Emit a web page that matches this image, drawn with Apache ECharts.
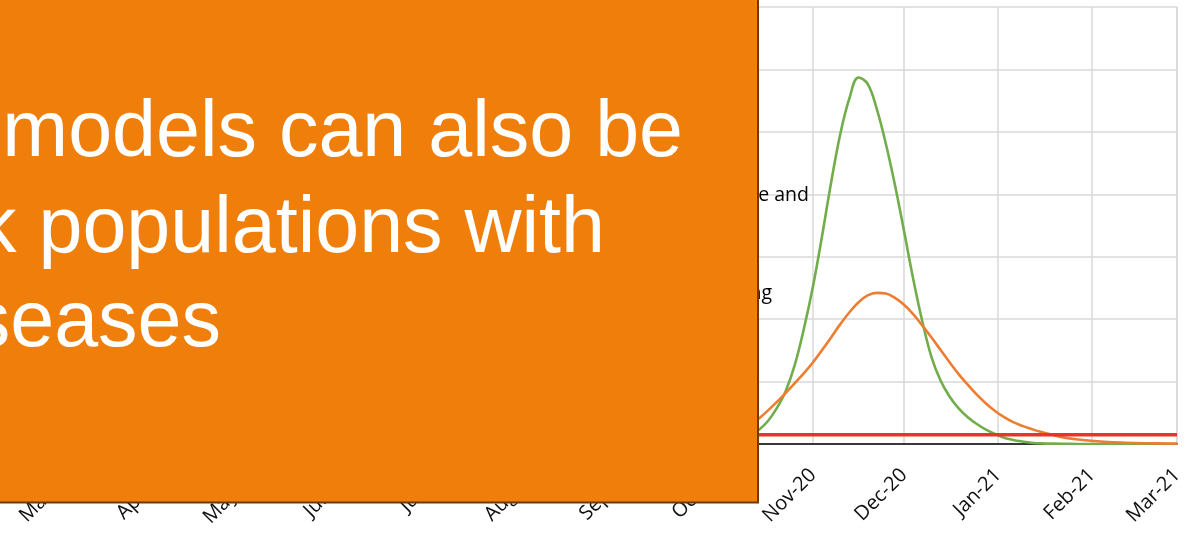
<!DOCTYPE html>
<html>
<head>
<meta charset="utf-8">
<style>
  html, body { margin: 0; padding: 0; background: #ffffff; }
  #chart { width: 1191px; height: 533px; }
</style>
<script src="https://cdn.jsdelivr.net/npm/echarts@6/dist/echarts.min.js"></script>
</head>
<body>
<div id="chart"></div>
<script>
// Modelled daily demand, autumn wave 2020/21
const dates = [
  '2020-10-14', '2020-10-17', '2020-10-20', '2020-10-23', '2020-10-26', '2020-10-29',
  '2020-11-01', '2020-11-04', '2020-11-07', '2020-11-10', '2020-11-13', '2020-11-16',
  '2020-11-19', '2020-11-22', '2020-11-25', '2020-11-28', '2020-12-01', '2020-12-04',
  '2020-12-07', '2020-12-10', '2020-12-13', '2020-12-16', '2020-12-19', '2020-12-22',
  '2020-12-25', '2020-12-28', '2020-12-31', '2021-01-03', '2021-01-06', '2021-01-09',
  '2021-01-12', '2021-01-15', '2021-01-22', '2021-01-29', '2021-02-05', '2021-02-12',
  '2021-02-19', '2021-02-26', '2021-03-01'
];

// unmitigated scenario (green)
const greenValues = [
  220, 360, 570, 850, 1270, 1850,
  2530, 3340, 4200, 4970, 5540, 5870,
  5770, 5370, 4810, 4150, 3410, 2650,
  1970, 1400, 1020, 760, 570, 430,
  320, 230, 160, 100, 65, 40,
  20, 10, 5, 0, 0, 0,
  0, 0, 0
];

// mitigated scenario (orange)
const orangeValues = [
  400, 530, 670, 820, 975, 1135,
  1310, 1505, 1710, 1920, 2110, 2270,
  2380, 2420, 2410, 2340, 2230, 2080,
  1900, 1710, 1510, 1310, 1120, 950,
  790, 650, 530, 430, 350, 290,
  240, 195, 110, 65, 35, 20,
  12, 8, 6
];

// capacity threshold (red)
const capacityDates = ['2020-03-01', '2021-03-01'];
const capacityLevel = 150;

const monthNames = ['Jan', 'Feb', 'Mar', 'Apr', 'May', 'Jun',
                    'Jul', 'Aug', 'Sep', 'Oct', 'Nov', 'Dec'];

// slide text
const headlineLines = ['models can also be', 'k populations with', 'seases'];
const noteLines = ['e and', 'ng'];

const pair = (xs, ys) => xs.map((d, i) => [d, ys[i]]);
const DAY = 86400000;

const chart = echarts.init(document.getElementById('chart'), null, { renderer: 'canvas' });

const orangeBox = '#EF7F0A';
const headFont = '79px "Liberation Sans"';
const noteFont = '19.5px "Open Sans"';

chart.setOption({
  animation: false,
  backgroundColor: '#ffffff',
  grid: { left: 70, right: 14, top: 7, bottom: 89 },
  xAxis: {
    type: 'time',
    min: '2020-03-01',
    max: '2021-03-01',
    splitNumber: 12,
    minInterval: 28 * DAY,
    maxInterval: 31 * DAY,
    axisLine: { show: true, lineStyle: { color: '#000000', width: 1.5 } },
    axisTick: { show: false },
    splitLine: { show: true, lineStyle: { color: '#d9d9d9', width: 1.5 } },
    axisLabel: {
      rotate: 45,
      margin: 28,
      hideOverlap: false,
      showMinLabel: true,
      showMaxLabel: true,
      color: '#111111',
      fontFamily: 'Open Sans',
      fontSize: 20,
      formatter: function (value) {
        const d = new Date(value);
        return monthNames[d.getMonth()] + '-' + String(d.getFullYear()).slice(2);
      }
    }
  },
  yAxis: {
    type: 'value',
    min: 0,
    max: 7000,
    interval: 1000,
    axisLine: { show: false },
    axisTick: { show: false },
    axisLabel: { show: false },
    splitLine: { show: true, lineStyle: { color: '#d9d9d9', width: 1.5 } }
  },
  series: [
    {
      name: 'Unmitigated',
      type: 'line',
      data: pair(dates, greenValues),
      showSymbol: false,
      smooth: 0.4,
      lineStyle: { color: '#72AD4C', width: 2.6 },
      z: 3
    },
    {
      name: 'Mitigated',
      type: 'line',
      data: pair(dates, orangeValues),
      showSymbol: false,
      smooth: 0.4,
      lineStyle: { color: '#ED7D31', width: 2.6 },
      z: 3
    },
    {
      name: 'Capacity',
      type: 'line',
      data: capacityDates.map(d => [d, capacityLevel]),
      showSymbol: false,
      lineStyle: { color: '#EC3329', width: 3.5 },
      z: 4
    }
  ],
  graphic: [
    // annotation text inside the plot, partly behind the panel
    {
      type: 'text', z: 50,
      style: { text: noteLines[0], x: 809, y: 185, align: 'right', verticalAlign: 'top',
               fill: '#000000', font: noteFont }
    },
    {
      type: 'text', z: 50,
      style: { text: noteLines[1], x: 772, y: 283, align: 'right', verticalAlign: 'top',
               fill: '#000000', font: noteFont }
    },
    // orange text panel
    {
      type: 'rect', z: 100,
      shape: { x: -10, y: -10, width: 768, height: 512.5 },
      style: { fill: orangeBox, stroke: '#6E3A08', lineWidth: 2 }
    },
    {
      type: 'text', z: 101,
      style: { text: headlineLines[0], x: 683, y: 95, align: 'right', verticalAlign: 'top',
               fill: '#ffffff', font: headFont }
    },
    {
      type: 'text', z: 101,
      style: { text: headlineLines[1], x: 605, y: 191, align: 'right', verticalAlign: 'top',
               fill: '#ffffff', font: headFont }
    },
    {
      type: 'text', z: 101,
      style: { text: headlineLines[2], x: 221, y: 285, align: 'right', verticalAlign: 'top',
               fill: '#ffffff', font: headFont }
    }
  ]
});
</script>
</body>
</html>
